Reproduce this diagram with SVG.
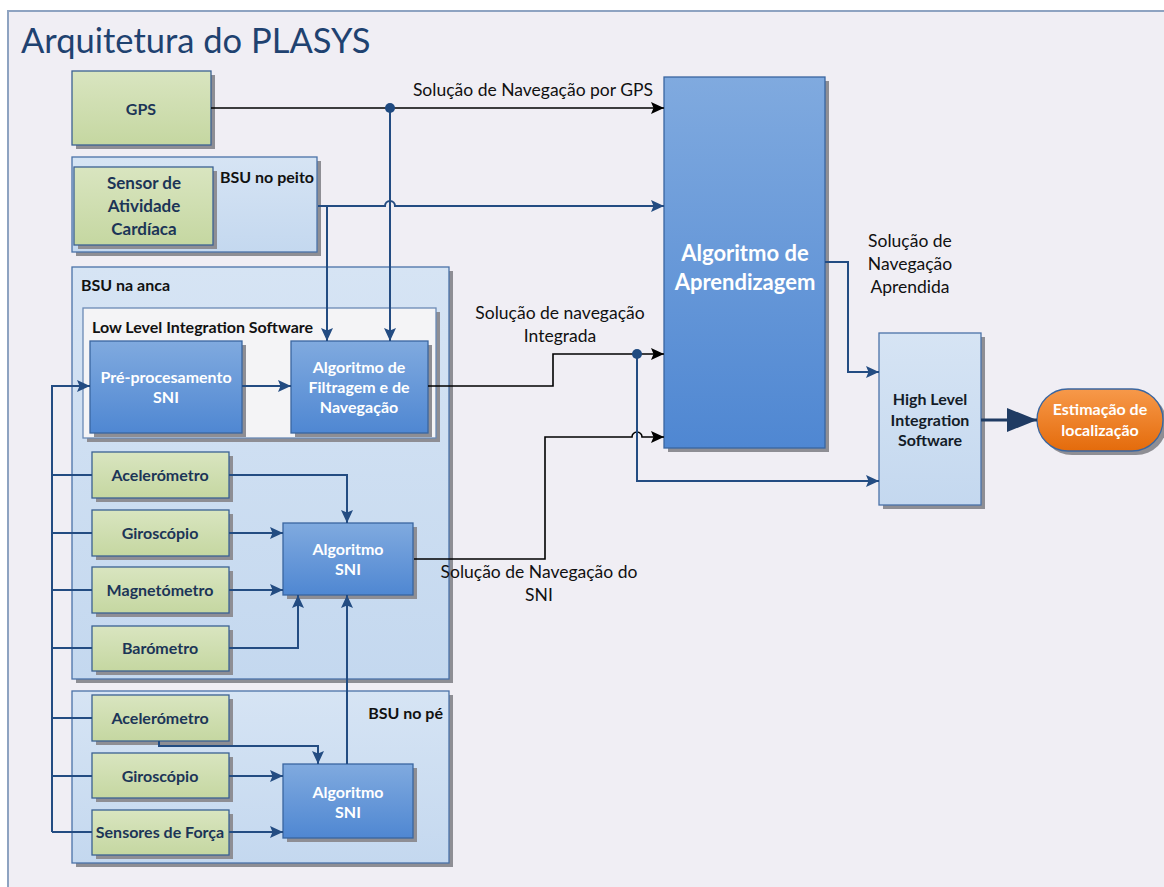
<svg xmlns="http://www.w3.org/2000/svg" width="1164" height="887" viewBox="0 0 1164 887">
  <defs>
    <linearGradient id="gGreen" x1="0" y1="0" x2="0" y2="1">
      <stop offset="0" stop-color="#d9e5c0"/>
      <stop offset="1" stop-color="#c5d7a1"/>
    </linearGradient>
    <linearGradient id="gPale" x1="0" y1="0" x2="0" y2="1">
      <stop offset="0" stop-color="#d6e4f4"/>
      <stop offset="1" stop-color="#c4d8ef"/>
    </linearGradient>
    <linearGradient id="gBlue" x1="0" y1="0" x2="0" y2="1">
      <stop offset="0" stop-color="#80aadf"/>
      <stop offset="1" stop-color="#4f87d2"/>
    </linearGradient>
    <linearGradient id="gOrange" x1="0" y1="0" x2="0" y2="1">
      <stop offset="0" stop-color="#f7994a"/>
      <stop offset="1" stop-color="#e46b0b"/>
    </linearGradient>
    <marker id="aBlue" viewBox="0 0 13 12" refX="13" refY="6" markerWidth="13" markerHeight="12" markerUnits="userSpaceOnUse" orient="auto">
      <path d="M0,0 L13,6 L0,12 L2.5,6 z" fill="#234c82"/>
    </marker>
    <marker id="aBlack" viewBox="0 0 13 12" refX="13" refY="6" markerWidth="13" markerHeight="12" markerUnits="userSpaceOnUse" orient="auto">
      <path d="M0,0 L13,6 L0,12 L2.5,6 z" fill="#000"/>
    </marker>
    <marker id="aBig" viewBox="0 0 30 24" refX="30" refY="12" markerWidth="30" markerHeight="24" markerUnits="userSpaceOnUse" orient="auto">
      <path d="M0,0 L30,12 L0,24 z" fill="#1f3b63"/>
    </marker>
  </defs>
  <style>
    .sh { fill: #8e8e94; }
    .green { fill: url(#gGreen); stroke: #3b6192; stroke-width: 1.3; }
    .pale { fill: url(#gPale); stroke: #4a72a8; stroke-width: 1.3; }
    .blue { fill: url(#gBlue); stroke: #3a66a0; stroke-width: 1.3; }
    .light { fill: #f4f4f6; stroke: #6b8ab5; stroke-width: 1.3; }
    text { font-family: Lato, "Liberation Sans", sans-serif; }
    .tg { font-size: 16px; font-weight: bold; fill: #1c3557; text-anchor: middle; }
    .tw { font-size: 16px; font-weight: bold; fill: #ffffff; text-anchor: middle; }
    .tl { font-size: 16px; font-weight: bold; fill: #111111; }
    .lab { font-size: 17.5px; fill: #111111; text-anchor: middle; }
    .cb { fill: none; stroke: #234c82; stroke-width: 2; }
    .ck { fill: none; stroke: #000000; stroke-width: 1.6; }
  </style>

  <!-- page frame -->
  <rect x="0" y="0" width="1164" height="887" fill="#ffffff"/>
  <rect x="8" y="11" width="1200" height="900" fill="#f0eef4" stroke="#8ea3c1" stroke-width="2"/>
  <text x="21" y="53" font-size="34.5" fill="#1f4270">Arquitetura do PLASYS</text>

  <!-- GPS -->
  <g id="gps">
    <rect class="sh" x="76" y="75" width="139" height="74"/>
    <rect class="green" x="72" y="71" width="139" height="74"/>
    <text class="tg" x="141" y="115">GPS</text>
  </g>

  <!-- BSU no peito -->
  <g id="bsu-peito">
    <rect class="sh" x="76" y="161" width="245" height="95"/>
    <rect class="pale" x="72" y="157" width="245" height="95"/>
    <text class="tl" x="220" y="183">BSU no peito</text>
  </g>
  <g id="sensor-cardiaco">
    <rect class="sh" x="78" y="171" width="139" height="78"/>
    <rect class="green" x="74" y="167" width="139" height="78"/>
    <text class="tg" x="144" y="189" style="font-size:17px">Sensor de</text>
    <text class="tg" x="144" y="212" style="font-size:17px">Atividade</text>
    <text class="tg" x="144" y="235" style="font-size:17px">Cardíaca</text>
  </g>

  <!-- BSU na anca -->
  <g id="bsu-anca">
    <rect class="sh" x="76" y="271" width="377" height="412"/>
    <rect class="pale" x="72" y="267" width="377" height="412"/>
    <text class="tl" x="81" y="291">BSU na anca</text>
  </g>
  <g id="low-level">
    <rect class="sh" x="87" y="312" width="353" height="130"/>
    <rect class="light" x="83" y="308" width="353" height="130"/>
    <text class="tl" x="92" y="333">Low Level Integration Software</text>
  </g>
  <g id="pre-processamento">
    <rect class="sh" x="94" y="345" width="152" height="92"/>
    <rect class="blue" x="90" y="341" width="152" height="92"/>
    <text class="tw" x="166" y="383">Pré-procesamento</text>
    <text class="tw" x="166" y="403">SNI</text>
  </g>
  <g id="filtragem">
    <rect class="sh" x="295" y="345" width="137" height="92"/>
    <rect class="blue" x="291" y="341" width="137" height="92"/>
    <text class="tw" x="359" y="373">Algoritmo de</text>
    <text class="tw" x="359" y="393">Filtragem e de</text>
    <text class="tw" x="359" y="413">Navegação</text>
  </g>
  <g id="acelerometro-anca">
    <rect class="sh" x="96" y="456" width="137" height="46"/>
    <rect class="green" x="92" y="452" width="137" height="46"/>
    <text class="tg" x="160" y="481">Acelerómetro</text>
  </g>
  <g id="giroscopio-anca">
    <rect class="sh" x="96" y="514" width="137" height="46"/>
    <rect class="green" x="92" y="510" width="137" height="46"/>
    <text class="tg" x="160" y="539">Giroscópio</text>
  </g>
  <g id="magnetometro-anca">
    <rect class="sh" x="96" y="571" width="137" height="46"/>
    <rect class="green" x="92" y="567" width="137" height="46"/>
    <text class="tg" x="160" y="596">Magnetómetro</text>
  </g>
  <g id="barometro-anca">
    <rect class="sh" x="96" y="630" width="137" height="45"/>
    <rect class="green" x="92" y="626" width="137" height="45"/>
    <text class="tg" x="160" y="654">Barómetro</text>
  </g>
  <g id="sni-anca">
    <rect class="sh" x="287" y="527" width="130" height="72"/>
    <rect class="blue" x="283" y="523" width="130" height="72"/>
    <text class="tw" x="348" y="555">Algoritmo</text>
    <text class="tw" x="348" y="575">SNI</text>
  </g>

  <!-- BSU no pé -->
  <g id="bsu-pe">
    <rect class="sh" x="76" y="695" width="377" height="172"/>
    <rect class="pale" x="72" y="691" width="377" height="172"/>
    <text class="tl" x="443" y="719" text-anchor="end">BSU no pé</text>
  </g>
  <g id="acelerometro-pe">
    <rect class="sh" x="96" y="699" width="137" height="46"/>
    <rect class="green" x="92" y="695" width="137" height="46"/>
    <text class="tg" x="160" y="724">Acelerómetro</text>
  </g>
  <g id="giroscopio-pe">
    <rect class="sh" x="96" y="757" width="137" height="45"/>
    <rect class="green" x="92" y="753" width="137" height="45"/>
    <text class="tg" x="160" y="782">Giroscópio</text>
  </g>
  <g id="sensores-forca">
    <rect class="sh" x="96" y="814" width="137" height="45"/>
    <rect class="green" x="92" y="810" width="137" height="45"/>
    <text class="tg" x="160" y="838">Sensores de Força</text>
  </g>
  <g id="sni-pe">
    <rect class="sh" x="287" y="768" width="130" height="74"/>
    <rect class="blue" x="283" y="764" width="130" height="74"/>
    <text class="tw" x="348" y="798">Algoritmo</text>
    <text class="tw" x="348" y="818">SNI</text>
  </g>

  <!-- learning block -->
  <g id="aprendizagem">
    <rect class="sh" x="668" y="81" width="161" height="371"/>
    <rect class="blue" x="664" y="77" width="161" height="371"/>
    <text class="tw" x="745" y="261" style="font-size:22px">Algoritmo de</text>
    <text class="tw" x="745" y="290" style="font-size:22px">Aprendizagem</text>
  </g>

  <!-- high level integration -->
  <g id="high-level">
    <rect class="sh" x="883" y="337" width="102" height="172"/>
    <rect class="pale" x="879" y="333" width="102" height="172"/>
    <text class="tg" x="930" y="405" style="fill:#141c28">High Level</text>
    <text class="tg" x="930" y="426" style="fill:#141c28">Integration</text>
    <text class="tg" x="930" y="446" style="fill:#141c28">Software</text>
  </g>

  <!-- output -->
  <g id="estimacao">
    <rect x="1041" y="393" width="126" height="62" rx="31" fill="#8e8e94"/>
    <rect x="1037" y="389" width="126" height="62" rx="31" fill="url(#gOrange)" stroke="#3a66a0" stroke-width="1.3"/>
    <text class="tw" x="1100" y="415">Estimação de</text>
    <text class="tw" x="1100" y="436">localização</text>
  </g>

  <!-- connectors -->
  <g id="connectors">
    <!-- navigation solutions into the learning block -->
    <path class="ck" d="M211,108 H664" marker-end="url(#aBlack)"/>
    <path class="ck" d="M428,386 H553 V354 H664" marker-end="url(#aBlack)"/>
    <path class="ck" d="M414,559 H545 V437 H632 a5,5 0 0 1 10,0 H664" marker-end="url(#aBlack)"/>
    <path class="cb" d="M318,206 H385 a5,5 0 0 1 10,0 H664" marker-end="url(#aBlue)"/>
    <path class="cb" d="M327,206 V341" marker-end="url(#aBlue)"/>
    <path class="cb" d="M390,108 V341" marker-end="url(#aBlue)"/>
    <circle cx="390" cy="108" r="5" fill="#1f4a80"/>

    <!-- learned / integrated solutions into the high level software -->
    <path class="cb" d="M825,262 H848 V372 H879" marker-end="url(#aBlue)"/>
    <path class="cb" d="M637,354 V481 H879" marker-end="url(#aBlue)"/>
    <circle cx="637" cy="354" r="5" fill="#1f4a80"/>

    <!-- sensor bus into pre-processing -->
    <path class="cb" d="M52,832 V386 H90" marker-end="url(#aBlue)"/>
    <path class="cb" d="M52,475 H92 M52,533 H92 M52,590 H92 M52,648 H92 M52,718 H92 M52,776 H92 M52,832 H92"/>
    <path class="cb" d="M242,386 H291" marker-end="url(#aBlue)"/>

    <!-- hip inertial sensors -->
    <path class="cb" d="M229,475 H347 V523" marker-end="url(#aBlue)"/>
    <path class="cb" d="M229,533 H283" marker-end="url(#aBlue)"/>
    <path class="cb" d="M229,590 H283" marker-end="url(#aBlue)"/>
    <path class="cb" d="M229,648 H298 V595" marker-end="url(#aBlue)"/>
    <path class="cb" d="M347,764 V595" marker-end="url(#aBlue)"/>

    <!-- foot sensors -->
    <path class="cb" d="M159,741 V746 H318 V764" marker-end="url(#aBlue)"/>
    <path class="cb" d="M229,776 H283" marker-end="url(#aBlue)"/>
    <path class="cb" d="M229,832 H283" marker-end="url(#aBlue)"/>

    <!-- final estimate -->
    <path d="M981,420 H1037" fill="none" stroke="#1f3b63" stroke-width="3" marker-end="url(#aBig)"/>
  </g>

  <!-- connector labels -->
  <g id="labels">
    <text class="lab" x="533" y="96">Solução de Navegação por GPS</text>
    <text class="lab" x="560" y="319">Solução de navegação</text>
    <text class="lab" x="560" y="342">Integrada</text>
    <text class="lab" x="539" y="578">Solução de Navegação do</text>
    <text class="lab" x="539" y="601">SNI</text>
    <text class="lab" x="910" y="247">Solução de</text>
    <text class="lab" x="910" y="270">Navegação</text>
    <text class="lab" x="910" y="293">Aprendida</text>
  </g>
</svg>
